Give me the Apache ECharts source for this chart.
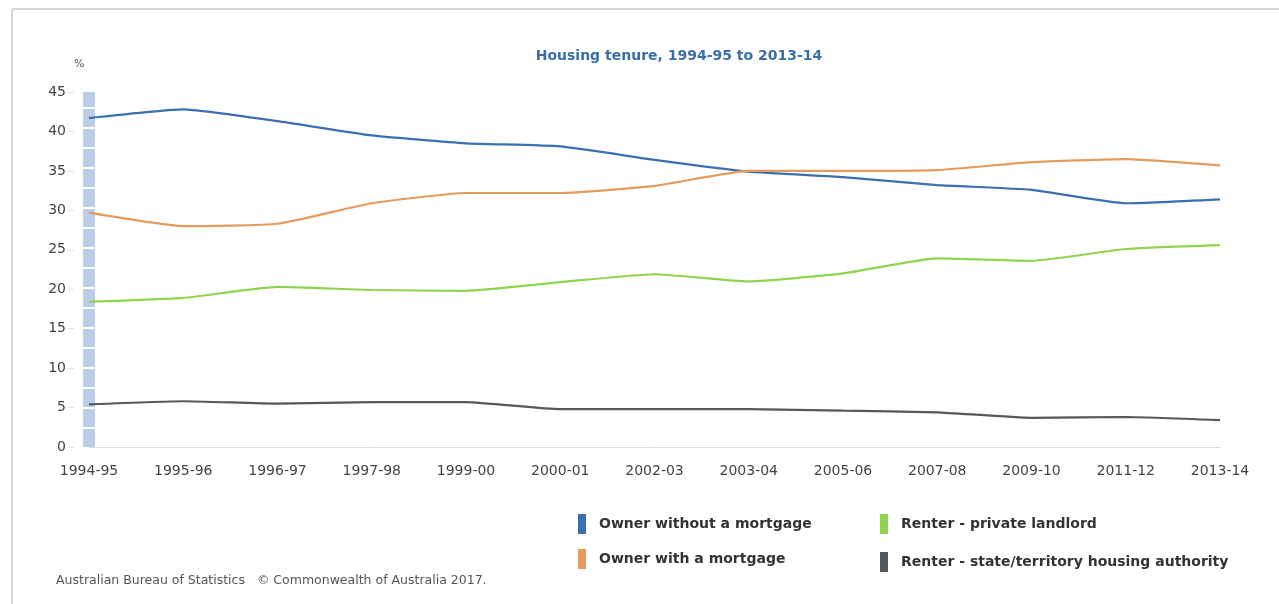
<!DOCTYPE html>
<html>
<head>
<meta charset="utf-8">
<title>Housing tenure, 1994-95 to 2013-14</title>
<script src="https://cdn.jsdelivr.net/npm/echarts@6/dist/echarts.min.js"></script>
<style>
  html, body { margin: 0; padding: 0; background: #ffffff; }
  #chart { width: 1279px; height: 604px; }
</style>
</head>
<body>
<div id="chart"></div>
<script>
// Survey years
const years = ['1994-95', '1995-96', '1996-97', '1997-98', '1999-00', '2000-01', '2002-03',
               '2003-04', '2005-06', '2007-08', '2009-10', '2011-12', '2013-14'];

// Share of households by tenure type (%)
const ownerOutright = [41.7, 42.8, 41.3, 39.5, 38.5, 38.1, 36.4, 34.9, 34.2, 33.2, 32.6, 30.9, 31.4];
const ownerMortgage = [29.7, 28.0, 28.3, 30.9, 32.2, 32.2, 33.1, 35.0, 35.0, 35.1, 36.1, 36.5, 35.7];
const renterPrivate = [18.4, 18.9, 20.3, 19.9, 19.8, 20.9, 21.9, 21.0, 22.0, 23.9, 23.6, 25.1, 25.6];
const renterPublic  = [5.4, 5.8, 5.5, 5.7, 5.7, 4.8, 4.8, 4.8, 4.6, 4.4, 3.7, 3.8, 3.4];

const seriesNames = [
  'Owner without a mortgage',
  'Owner with a mortgage',
  'Renter - private landlord',
  'Renter - state/territory housing authority'
];
const yTicks = [0, 5, 10, 15, 20, 25, 30, 35, 40, 45];

const colors = ['#3b6fb1', '#e59b5e', '#8fd34f', '#53595c'];
const font = 'DejaVu Sans, Verdana, sans-serif';

const chart = echarts.init(document.getElementById('chart'), null, { renderer: 'canvas' });

function lineSeries(name, data, color, extra) {
  return Object.assign({
    name: name,
    type: 'line',
    data: data,
    symbol: 'none',
    smooth: 0.15,
    lineStyle: { color: color, width: 2.2 },
    itemStyle: { color: color },
    z: 3
  }, extra || {});
}

const legendText = {
  fontFamily: font, fontSize: 14, fontWeight: 'bold', color: '#333333',
  padding: [0, 0, 0, 8]
};

chart.setOption({
  animation: false,
  backgroundColor: '#ffffff',
  color: colors,
  title: {
    text: 'Housing tenure, 1994-95 to 2013-14',
    left: 674,
    textAlign: 'center',
    top: 44,
    textStyle: { fontFamily: font, fontSize: 14, fontWeight: 'bold', color: '#3a6ea8' }
  },
  grid: { left: 89, right: 59, top: 92, bottom: 157, containLabel: false },
  legend: [
    {
      orient: 'vertical',
      left: 573,
      top: 509,
      itemWidth: 8,
      itemHeight: 20,
      itemGap: 15,
      icon: 'rect',
      data: [seriesNames[0], seriesNames[1]],
      textStyle: legendText
    },
    {
      orient: 'vertical',
      left: 875,
      top: 509,
      itemWidth: 8,
      itemHeight: 20,
      itemGap: 18,
      icon: 'rect',
      data: [seriesNames[2], seriesNames[3]],
      textStyle: legendText
    }
  ],
  xAxis: {
    type: 'category',
    data: years,
    boundaryGap: false,
    axisLine: { show: true, lineStyle: { color: '#d8dde2', width: 1 } },
    axisTick: { show: false },
    axisLabel: {
      interval: 0,
      margin: 17,
      fontFamily: font,
      fontSize: 14,
      color: '#444444'
    },
    splitLine: { show: false }
  },
  yAxis: {
    type: 'value',
    min: 0,
    max: 45,
    interval: 5,
    offset: 15,
    name: '%',
    nameLocation: 'end',
    nameGap: 22,
    nameTextStyle: { fontFamily: font, fontSize: 11, color: '#555555', align: 'left' },
    axisLine: { show: false },
    axisTick: { show: true, length: 6, lineStyle: { color: '#e2e2e2' } },
    axisLabel: {
      margin: 8,
      fontFamily: font,
      fontSize: 14,
      color: '#444444',
      formatter: function (v) { return yTicks.indexOf(v) >= 0 ? String(v) : ''; }
    },
    splitLine: { show: false }
  },
  series: [
    lineSeries(seriesNames[0], ownerOutright, colors[0], {
      // highlighted first-category band
      markLine: {
        silent: true,
        symbol: 'none',
        label: { show: false },
        lineStyle: { color: '#bccee6', width: 12, type: [18, 2] },
        data: [{ xAxis: 0 }],
        z: 1
      }
    }),
    lineSeries(seriesNames[1], ownerMortgage, colors[1]),
    lineSeries(seriesNames[2], renterPrivate, colors[2]),
    lineSeries(seriesNames[3], renterPublic, colors[3])
  ],
  graphic: [
    {
      type: 'line',
      shape: { x1: 12, y1: 9, x2: 1279, y2: 9 },
      style: { stroke: '#d6d6d6', lineWidth: 2 }
    },
    {
      type: 'line',
      shape: { x1: 12, y1: 9, x2: 12, y2: 604 },
      style: { stroke: '#d6d6d6', lineWidth: 2 }
    },
    {
      type: 'text',
      left: 56,
      top: 574,
      style: {
        text: 'Australian Bureau of Statistics   \u00A9 Commonwealth of Australia 2017.',
        fontFamily: font,
        fontSize: 12.5,
        fill: '#555555'
      }
    }
  ]
});
</script>
</body>
</html>
